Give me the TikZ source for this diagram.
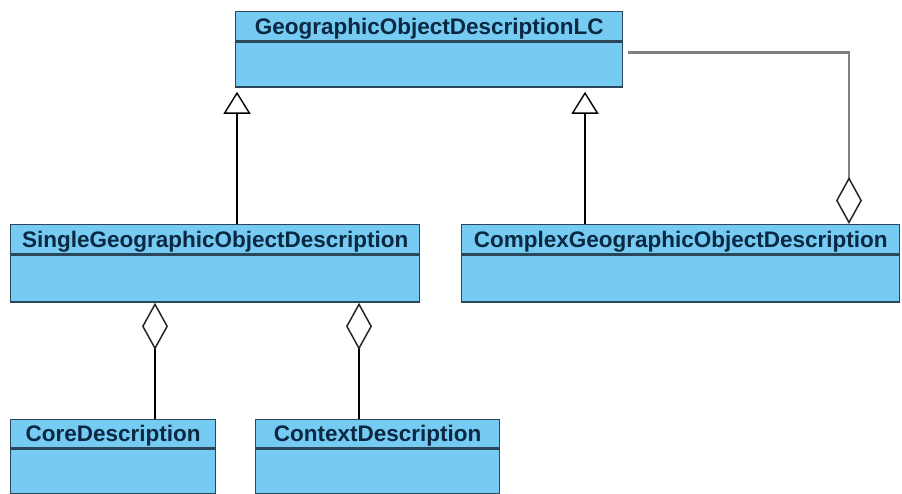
\documentclass[tikz,border=0pt]{standalone}
\usepackage{fontspec}
\setmainfont{Liberation Sans}
\usepackage{tikz}
\usetikzlibrary{positioning}
\usetikzlibrary{arrows.meta}
\definecolor{classfill}{HTML}{76CBF2}
\definecolor{classline}{HTML}{2A4659}
\definecolor{classtext}{HTML}{0B2842}
\tikzset{classhead/.style={draw=classline,fill=classfill,line width=1.4pt,inner sep=0pt,
           anchor=north west,minimum height=29pt,text=classtext,
           font=\fontsize{22.5}{22.5}\selectfont\bfseries,text height=16pt,text depth=0pt},
         classbody/.style={draw=classline,fill=classfill,line width=1.4pt,inner sep=0pt,
           below=0pt of #1},
         generalize/.style={draw=black,line width=1.6pt,shorten >=4pt,
           -{Triangle[open,length=22pt,width=27pt,line width=1.4pt]}},
         aggregate/.style={draw=#1,line width=1.8pt,
           -{Diamond[open,length=47pt,width=26pt,line width=1.5pt,color=black!85]}},
         aggregate/.default=black}

\begin{document}
\begin{tikzpicture}[x=1pt,y=1pt]
\useasboundingbox (0,0) rectangle (902,494);

% classes
\node[classhead,minimum width=387pt] (lchead) at (235,483) {GeographicObjectDescriptionLC};
\node[classbody=lchead,minimum width=387pt,minimum height=45pt] (lcbody) {};

\node[classhead,minimum width=409pt] (singlehead) at (10,270) {SingleGeographicObjectDescription};
\node[classbody=singlehead,minimum width=409pt,minimum height=47pt] (singlebody) {};

\node[classhead,minimum width=438pt] (complexhead) at (461,270) {ComplexGeographicObjectDescription};
\node[classbody=complexhead,minimum width=438pt,minimum height=47pt] (complexbody) {};

\node[classhead,minimum width=205pt,minimum height=28pt] (corehead) at (10,75) {CoreDescription};
\node[classbody=corehead,minimum width=205pt,minimum height=45pt] (corebody) {};

\node[classhead,minimum width=244pt,minimum height=28pt] (contexthead) at (255,75) {ContextDescription};
\node[classbody=contexthead,minimum width=244pt,minimum height=45pt] (contextbody) {};

% connector ends
\coordinate (singlegen) at ([xshift=227pt]singlehead.north west);
\coordinate (complexgen) at ([xshift=124pt]complexhead.north west);
\coordinate (complexagg) at ([xshift=388pt]complexhead.north west);
\coordinate (coreagg) at ([xshift=145pt]corehead.north west);
\coordinate (contextagg) at ([xshift=104pt]contexthead.north west);

% generalizations
\draw[generalize] (singlegen) -- (singlegen |- lcbody.south);
\draw[generalize] (complexgen) -- (complexgen |- lcbody.south);

% aggregations
\draw[aggregate=black!50,line width=2.6pt] ([shift={(5pt,-11pt)}]lcbody.north east) -| (complexagg);
\draw[aggregate] (coreagg) -- (coreagg |- singlebody.south);
\draw[aggregate] (contextagg) -- (contextagg |- singlebody.south);
\end{tikzpicture}
\end{document}
